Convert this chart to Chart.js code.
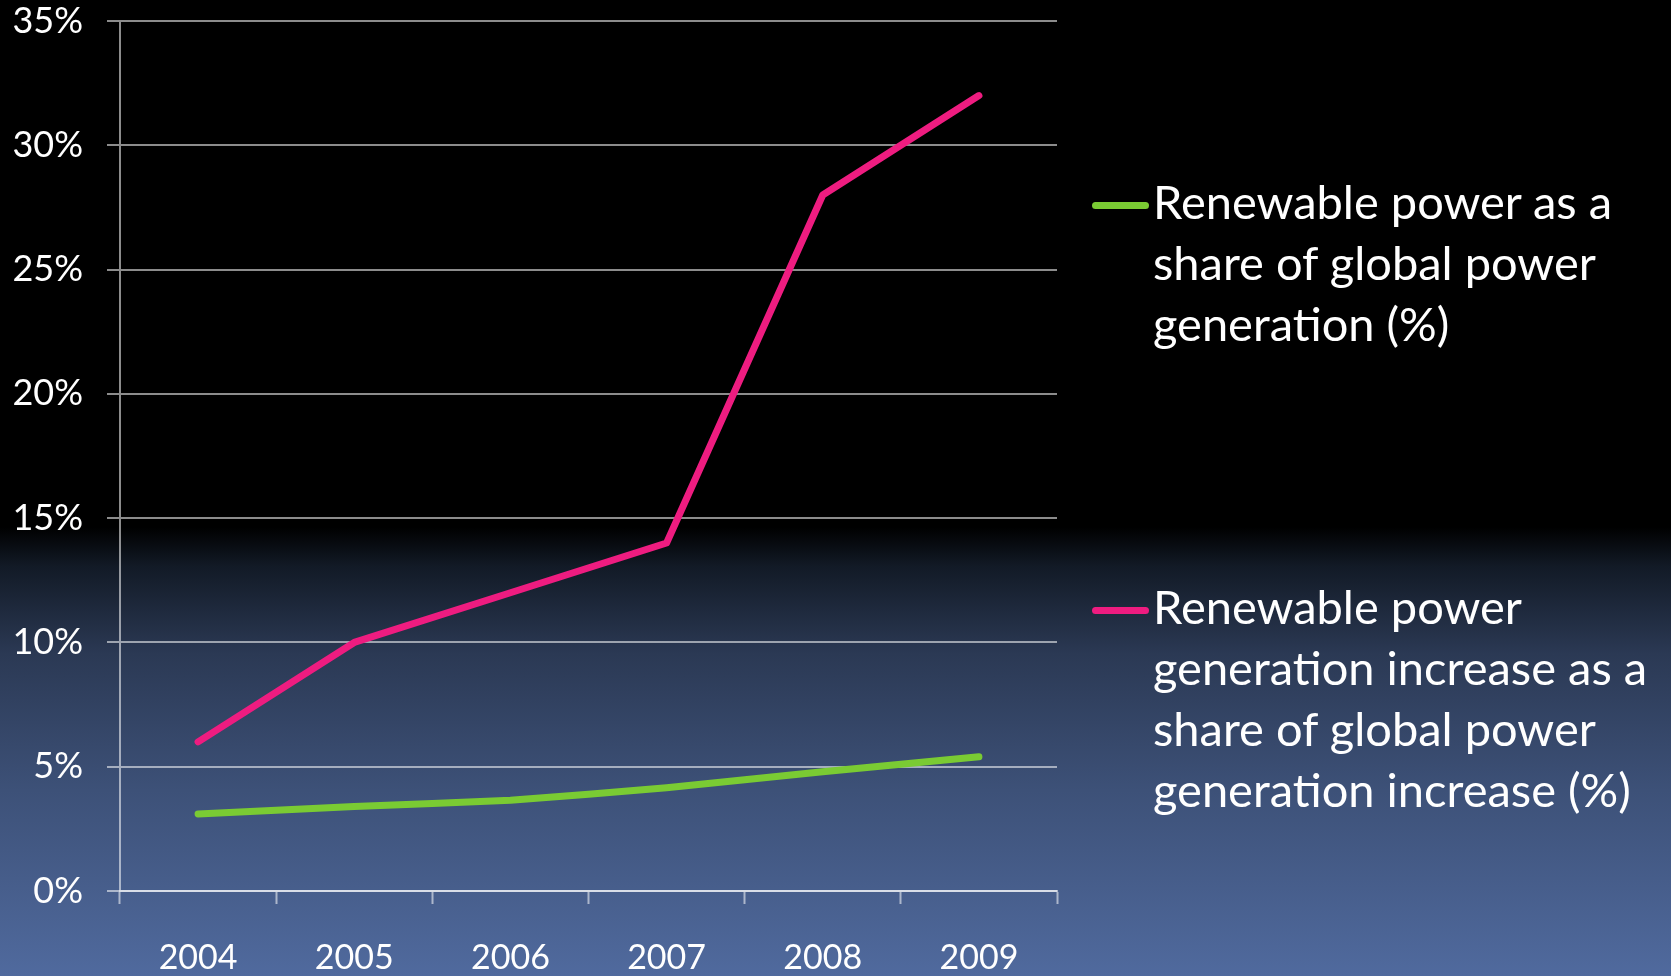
<!DOCTYPE html>
<html>
<head>
<meta charset="utf-8">
<title>Renewable power share</title>
<script src="https://cdn.jsdelivr.net/npm/chart.js@4.4.1/dist/chart.umd.min.js"></script>
<style>
  html, body {
    margin: 0;
    padding: 0;
    width: 1671px;
    height: 976px;
    overflow: hidden;
    background: linear-gradient(to bottom, #000 0%, #000 54%, #121a26 58%, #2b3954 67%, #3d5178 81%, #506a9e 100%);
    font-family: Lato, "Open Sans", sans-serif;
  }
  #wrap { position: absolute; left: 0; top: 0; width: 1671px; height: 976px; }
  .legend-item { position: absolute; left: 1092px; color: #fff; font-size: 47px; line-height: 61px; }
  .legend-item .mark { position: absolute; left: 0; width: 57px; height: 7px; border-radius: 4px; }
  .legend-item .text { margin-left: 61px; white-space: nowrap; }
</style>
</head>
<body>
<div id="wrap">
  <canvas id="powerChart" width="1671" height="976"></canvas>
</div>
<script>
// chart data
const years = ['2004', '2005', '2006', '2007', '2008', '2009'];
const shareOfGeneration = [3.1, 3.4, 3.65, 4.15, 4.8, 5.4];
const shareOfIncrease = [6, 10, 12, 14, 28, 32];
const yTicks = [0, 5, 10, 15, 20, 25, 30, 35];
const legendLines = [
  ['Renewable power as a', 'share of global power', 'generation (%)'],
  ['Renewable power', 'generation increase as a', 'share of global power', 'generation increase (%)']
];
const seriesColors = ['#7acb33', '#ee1c80'];

const gridColor = 'rgba(255, 255, 255, 0.55)';

const ctx = document.getElementById('powerChart').getContext('2d');
const chart = new Chart(ctx, {
    type: 'line',
    data: {
        labels: years,
        datasets: [{
            label: legendLines[0].join(' '),
            data: shareOfGeneration,
            borderColor: seriesColors[0],
            borderWidth: 7,
            pointRadius: 0,
            tension: 0.1,
            borderCapStyle: 'round',
            borderJoinStyle: 'round'
        }, {
            label: legendLines[1].join(' '),
            data: shareOfIncrease,
            borderColor: seriesColors[1],
            borderWidth: 7,
            pointRadius: 0,
            tension: 0,
            borderCapStyle: 'round',
            borderJoinStyle: 'round'
        }]
    },
    options: {
        responsive: false,
        animation: false,
        layout: { padding: { left: 0, top: 21, right: 614, bottom: 0 } },
        plugins: {
            legend: { display: false },
            tooltip: { enabled: false }
        },
        scales: {
            x: {
                offset: true,
                afterFit: (scale) => { scale.height = 85; },
                grid: {
                    offset: true,
                    drawOnChartArea: false,
                    drawTicks: true,
                    tickLength: 13,
                    tickWidth: 2,
                    color: gridColor
                },
                border: { display: true, color: gridColor, width: 2 },
                ticks: {
                    color: '#fff',
                    padding: 34,
                    font: { family: 'Lato', size: 34 }
                }
            },
            y: {
                min: 0,
                max: 35,
                afterFit: (scale) => {
                    scale.width = 120;
                    scale.paddingTop = 0;
                    scale.paddingBottom = 0;
                },
                afterBuildTicks: (scale) => { scale.ticks = yTicks.map(v => ({ value: v })); },
                grid: {
                    color: gridColor,
                    lineWidth: 2,
                    tickLength: 13
                },
                border: { display: true, color: gridColor, width: 2 },
                ticks: {
                    color: '#fff',
                    padding: 24,
                    font: { family: 'Lato', size: 36 },
                    callback: (v) => v + '%'
                }
            }
        }
    }
});

// legend on the right, one block per series
const legendTops = [171, 576];
chart.data.datasets.forEach((ds, i) => {
    const item = document.createElement('div');
    item.className = 'legend-item';
    item.style.top = legendTops[i] + 'px';
    const mark = document.createElement('div');
    mark.className = 'mark';
    mark.style.background = ds.borderColor;
    mark.style.top = '31px';
    item.appendChild(mark);
    const text = document.createElement('div');
    text.className = 'text';
    legendLines[i].forEach(line => {
        const row = document.createElement('div');
        row.textContent = line;
        text.appendChild(row);
    });
    item.appendChild(text);
    document.getElementById('wrap').appendChild(item);
});
</script>
</body>
</html>
